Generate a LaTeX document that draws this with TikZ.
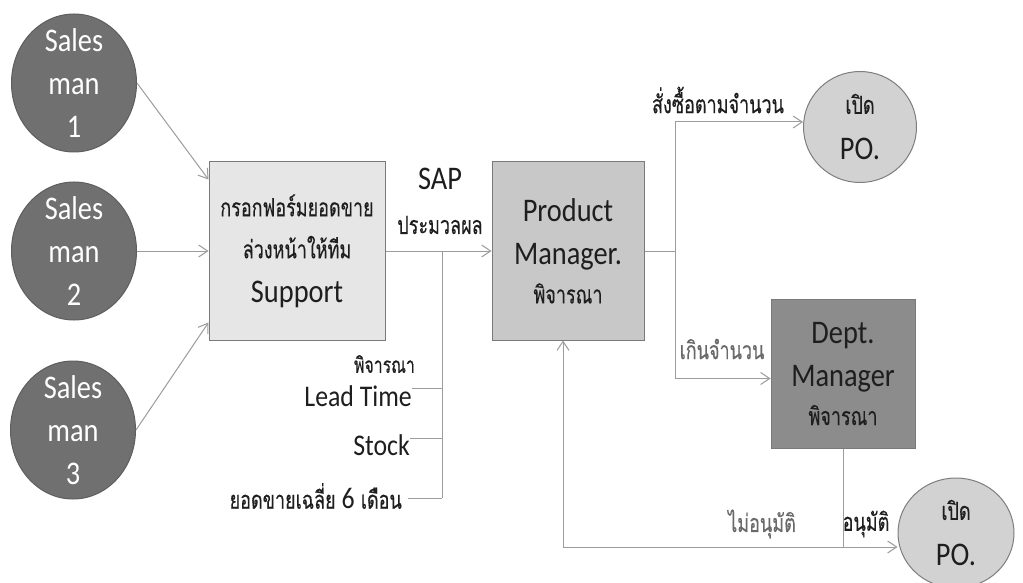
\documentclass[tikz,border=0pt]{standalone}
\usepackage{fontspec}
\setmainfont{Carlito}[FakeStretch=0.86]
\newfontfamily\thai[Script=Thai,FakeStretch=0.72,FakeBold=0.3]{Loma}
\usetikzlibrary{arrows.meta,shapes.geometric,calc}
\definecolor{lineg}{HTML}{9C9C9C}
\definecolor{smf}{HTML}{707070}
\definecolor{smb}{HTML}{5E5E5E}
\definecolor{supf}{HTML}{E6E6E6}
\definecolor{pmf}{HTML}{C8C8C8}
\definecolor{dmf}{HTML}{8C8C8C}
\definecolor{boxb}{HTML}{7A7A7A}
\definecolor{pof}{HTML}{D2D2D2}
\definecolor{pob}{HTML}{7E7E7E}
\definecolor{txt}{HTML}{1E1E1E}
\definecolor{txtg}{HTML}{6A6A6A}
\begin{document}
\begin{tikzpicture}[x=1pt,y=-1pt,
  ln/.style={draw=lineg, line width=1pt},
  arr/.style={ln, -{Straight Barb[length=9pt,width=12pt]}},
  sman/.style={ellipse, draw=smb, line width=1pt, fill=smf, minimum width=125pt, minimum height=138pt, inner sep=0pt},
  smtxt/.style={text=white, align=center, inner sep=0pt, font=\fontsize{33}{43}\selectfont},
  box/.style={rectangle, draw=boxb, line width=1pt, inner sep=0pt, align=center, text=txt},
  po/.style={ellipse, draw=pob, line width=1pt, fill=pof, inner sep=0pt},
  potxt/.style={align=center, inner sep=0pt, text=txt, font=\fontsize{33}{46}\selectfont},
  th/.style={inner sep=0pt, text=txt, font=\thai\fontsize{25}{30}\selectfont},
  big/.style={inner sep=0pt, text=txt, font=\fontsize{33}{40}\selectfont},
  mid/.style={inner sep=0pt, text=txt, font=\fontsize{30}{36}\selectfont},
]
\useasboundingbox[fill=white] (0,0) rectangle (1023,583);

% salesmen
\node[sman, label={[smtxt]center:{Sales\\man\\1}}] (s1) at (74,83) {};
\node[sman, label={[smtxt]center:{Sales\\man\\2}}] (s2) at (74,251) {};
\node[sman, label={[smtxt]center:{Sales\\man\\3}}] (s3) at (73,430) {};

% boxes
\node[box, fill=supf, minimum width=176pt, minimum height=178pt,
      font=\fontsize{18}{42}\selectfont] (sup) at (297,251)
  {{\thai\fontsize{25}{30}\selectfont กรอกฟอร์มยอดขาย}\\{\thai\fontsize{25}{30}\selectfont ล่วงหน้าให้ทีม}\\[2pt]{\fontsize{33}{40}\selectfont Support}};
\node[box, fill=pmf, minimum width=152pt, minimum height=178pt,
      font=\fontsize{33}{43}\selectfont] (pm) at (568,251)
  {Product\\Manager.\\[-4pt]{\thai\fontsize{25}{30}\selectfont พิจารณา}};
\node[box, fill=dmf, minimum width=144pt, minimum height=149pt,
      font=\fontsize{33}{43}\selectfont] (dm) at (843,373.5)
  {Dept.\\Manager\\[-4pt]{\thai\fontsize{25}{30}\selectfont พิจารณา}};

% PO circles
\node[po, minimum width=113pt, minimum height=111pt,
      label={[potxt]center:{{\thai\fontsize{25}{30}\selectfont เปิด}\\PO.}}] (po1) at (860,127) {};
\node[po, minimum width=116pt, minimum height=110pt,
      label={[potxt]center:{{\thai\fontsize{25}{30}\selectfont เปิด}\\PO.}}] (po2) at (956,533) {};

% labels
\node[big] (sap) at (440,179) {SAP};
\node[th] (prm) at (440,225) {ประมวลผล};
\node[th, anchor=east, font=\thai\fontsize{22}{26}\selectfont] (pj) at (415,364) {พิจารณา};
\node[mid, anchor=east] (lt) at (412,396) {Lead Time};
\node[mid, anchor=east] (st) at (410,445) {Stock};
\node[th, anchor=east] (avg) at (402,496) {ยอดขายเฉลี่ย {\rmfamily\fontsize{30}{36}\selectfont 6} เดือน};
\node[th] (buy) at (718,100) {สั่งซื้อตามจำนวน};
\node[th, text=txtg] (over) at (722,349) {เกินจำนวน};
\node[th, text=txtg] (rej) at (762,524) {ไม่อนุมัติ};
\node[th] (app) at (866,524) {อนุมัติ};

% junctions
\coordinate (j1) at (442,251);
\coordinate (j2) at (675,251);
\coordinate (j3) at (843,547);
\coordinate (la) at ($(lt.east)+(0,-8)$);
\coordinate (sa) at ($(st.east)+(0,-7)$);
\coordinate (aa) at ($(avg.east)+(6,2)$);

% connectors
\draw[arr] (s1.east) -- ([yshift=-18pt]sup.north west);
\draw[arr] (s2.east) -- (sup.west);
\draw[arr] (s3.east) -- ([yshift=18pt]sup.south west);
\draw[arr] (sup.east) -- (pm.west);
\draw[ln] (j1) -- (j1 |- aa);
\draw[ln] (la) -- (j1 |- la);
\draw[ln] (sa) -- (j1 |- sa);
\draw[ln] (aa) -- (j1 |- aa);
\draw[ln] (pm.east) -- (j2);
\draw[arr] (j2) |- ([yshift=5pt]po1.west);
\draw[arr] (j2) |- ([yshift=-5pt]dm.west);
\draw[ln] (dm.south) -- (j3);
\draw[arr] (j3) -- (j3 -| po2.west);
\draw[arr] (j3) -| ([xshift=-5pt]pm.south);
\end{tikzpicture}
\end{document}
